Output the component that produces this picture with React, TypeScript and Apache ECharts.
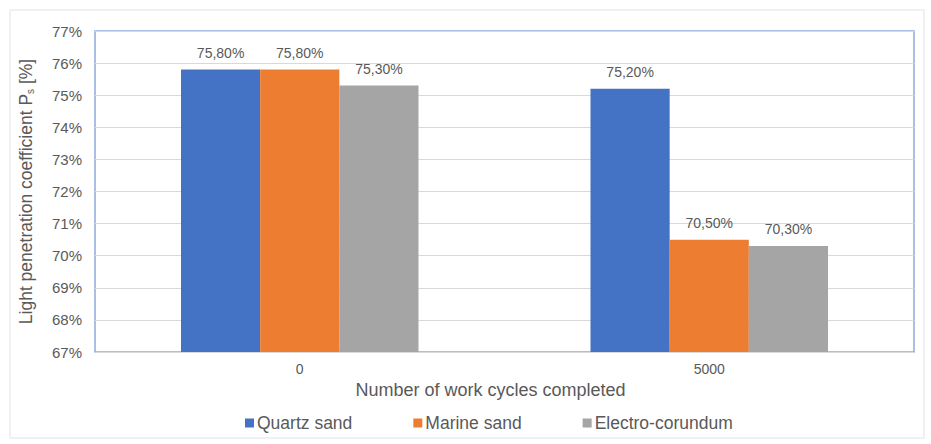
import React, { useEffect, useRef } from "react";
import * as echarts from "echarts";

const categories = ["0", "5000"];
const quartzSand = [75.8, 75.2];
const marineSand = [75.8, 70.5];
const electroCorundum = [75.3, 70.3];
const seriesNames = ["Quartz sand", "Marine sand", "Electro-corundum"];
const colors = ["#4472C4", "#ED7D31", "#A5A5A5"];

const fmt = (v: number) => v.toFixed(2).replace(".", ",") + "%";

export default function App() {
  const ref = useRef<HTMLDivElement>(null);
  useEffect(() => {
    const chart = echarts.init(ref.current!, null, { renderer: "svg" });
    const textColor = "#595959";
    const font = "Arial, 'Liberation Sans', sans-serif";
    const mk = (name: string, data: number[], color: string) => ({
      name,
      type: "bar",
      data,
      barGap: "0%",
      barCategoryGap: "42%",
      itemStyle: { color },
      label: {
        show: true,
        position: "top",
        distance: 10,
        color: textColor,
        fontSize: 14,
        fontFamily: font,
        formatter: (p: any) => fmt(p.value),
      },
    });
    chart.setOption({
      animation: false,
      backgroundColor: "#ffffff",
      textStyle: { fontFamily: font },
      graphic: [
        {
          type: "rect",
          shape: { x: 10, y: 10, width: 914, height: 428 },
          style: { fill: "none", stroke: "#e3e3e3", lineWidth: 1 },
          silent: true,
          z: -10,
        },
      ],
      grid: { left: 95, right: 17, top: 31, bottom: 92, show: true, borderColor: "#8eaadb", borderWidth: 1.5 },
      legend: {
        bottom: 12,
        left: 245,
        padding: 0,
        icon: "rect",
        itemWidth: 9,
        itemHeight: 9,
        itemGap: 61,
        textStyle: { color: textColor, fontSize: 17.5, fontFamily: font, padding: [0, 0, 0, -2] },
        data: seriesNames,
      },
      xAxis: {
        type: "category",
        data: categories,
        name: "Number of work cycles completed",
        nameLocation: "middle",
        nameGap: 24,
        nameTextStyle: { color: textColor, fontSize: 18, fontFamily: font, padding: [0, 28, 0, 0] },
        axisLine: { show: false },
        axisTick: { show: false },
        axisLabel: { color: textColor, fontSize: 14, margin: 10, fontFamily: font },
      },
      yAxis: {
        type: "value",
        min: 67,
        max: 77,
        interval: 1,
        name: "Light penetration coefficient P{sub|s} [%]",
        nameLocation: "middle",
        nameGap: 60,
        nameTextStyle: {
          color: textColor,
          fontSize: 17.5,
          fontFamily: font,
          rich: { sub: { fontSize: 10, color: textColor, fontFamily: font, verticalAlign: "bottom", padding: [7, 0, 0, 0] } },
        },
        axisLine: { show: false },
        axisTick: { show: false },
        splitLine: { lineStyle: { color: "#d9d9d9", width: 1 } },
        axisLabel: { color: textColor, fontSize: 15, margin: 13, fontFamily: font, formatter: (v: number) => `${v}%` },
      },
      series: [
        mk(seriesNames[0], quartzSand, colors[0]),
        mk(seriesNames[1], marineSand, colors[1]),
        mk(seriesNames[2], electroCorundum, colors[2]),
      ],
    });
    return () => chart.dispose();
  }, []);
  return <div ref={ref} style={{ position: "fixed", left: 0, top: 0, width: 931, height: 444 }} />;
}
